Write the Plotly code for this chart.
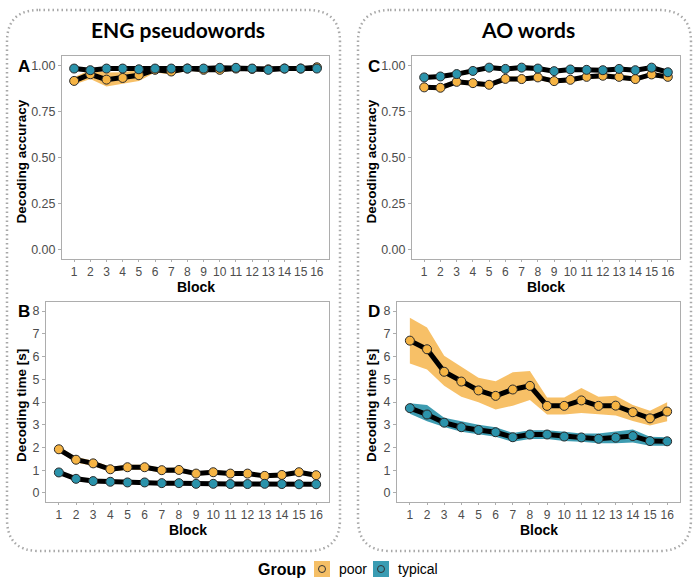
import plotly.graph_objects as go

W, H = 700, 584

blocks = list(range(1, 17))
acc_ticks = [0, 0.25, 0.5, 0.75, 1.0]
time_ticks = [0, 1, 2, 3, 4, 5, 6, 7, 8]

# Panel A: ENG pseudowords, accuracy
a_poor = [0.915, 0.951, 0.922, 0.931, 0.946, 0.975, 0.966, 0.982, 0.975, 0.975, 0.982, 0.980, 0.978, 0.982, 0.982, 0.989]
a_poor_lo = [0.895, 0.925, 0.885, 0.900, 0.915, 0.960, 0.950, 0.970, 0.965, 0.965, 0.972, 0.970, 0.968, 0.972, 0.972, 0.980]
a_poor_hi = [0.935, 0.975, 0.960, 0.962, 0.975, 0.990, 0.982, 0.992, 0.986, 0.986, 0.990, 0.990, 0.988, 0.990, 0.990, 0.996]
a_typ = [0.982, 0.973, 0.982, 0.982, 0.978, 0.982, 0.982, 0.982, 0.982, 0.986, 0.986, 0.982, 0.975, 0.982, 0.982, 0.982]
a_typ_lo = [0.974, 0.965, 0.974, 0.974, 0.970, 0.974, 0.974, 0.974, 0.974, 0.978, 0.978, 0.974, 0.967, 0.974, 0.974, 0.974]
a_typ_hi = [0.990, 0.981, 0.990, 0.990, 0.986, 0.990, 0.990, 0.990, 0.990, 0.994, 0.994, 0.990, 0.983, 0.990, 0.990, 0.990]

# Panel C: AO words, accuracy
c_poor = [0.880, 0.878, 0.910, 0.903, 0.894, 0.926, 0.925, 0.934, 0.914, 0.921, 0.937, 0.943, 0.937, 0.925, 0.950, 0.937]
c_poor_lo = [0.867, 0.865, 0.897, 0.890, 0.881, 0.913, 0.912, 0.921, 0.901, 0.908, 0.924, 0.930, 0.924, 0.912, 0.937, 0.924]
c_poor_hi = [0.893, 0.891, 0.923, 0.916, 0.907, 0.939, 0.938, 0.947, 0.927, 0.934, 0.950, 0.956, 0.950, 0.938, 0.963, 0.950]
c_typ = [0.934, 0.939, 0.952, 0.969, 0.987, 0.980, 0.987, 0.982, 0.968, 0.977, 0.975, 0.973, 0.980, 0.973, 0.987, 0.962]
c_typ_lo = [0.924, 0.929, 0.942, 0.959, 0.977, 0.970, 0.977, 0.972, 0.958, 0.967, 0.965, 0.963, 0.970, 0.963, 0.977, 0.952]
c_typ_hi = [0.944, 0.949, 0.962, 0.979, 0.997, 0.990, 0.997, 0.992, 0.978, 0.987, 0.985, 0.983, 0.990, 0.983, 0.997, 0.972]

# Panel B: ENG pseudowords, time
b_poor = [1.92, 1.46, 1.30, 1.04, 1.13, 1.13, 1.00, 1.01, 0.85, 0.91, 0.85, 0.85, 0.75, 0.79, 0.91, 0.78]
b_poor_lo = [1.80, 1.34, 1.18, 0.93, 1.02, 1.02, 0.90, 0.91, 0.76, 0.82, 0.76, 0.76, 0.66, 0.70, 0.82, 0.69]
b_poor_hi = [2.04, 1.58, 1.42, 1.15, 1.24, 1.24, 1.10, 1.11, 0.94, 1.00, 0.94, 0.94, 0.84, 0.88, 1.00, 0.87]
b_typ = [0.90, 0.62, 0.52, 0.49, 0.46, 0.46, 0.43, 0.43, 0.40, 0.40, 0.39, 0.39, 0.40, 0.39, 0.38, 0.38]
b_typ_lo = [0.84, 0.57, 0.47, 0.44, 0.41, 0.41, 0.38, 0.38, 0.35, 0.35, 0.34, 0.34, 0.35, 0.34, 0.33, 0.33]
b_typ_hi = [0.96, 0.67, 0.57, 0.54, 0.51, 0.51, 0.48, 0.48, 0.45, 0.45, 0.44, 0.44, 0.45, 0.44, 0.43, 0.43]

# Panel D: AO words, time
d_poor = [6.70, 6.32, 5.33, 4.90, 4.51, 4.27, 4.55, 4.71, 3.83, 3.83, 4.07, 3.83, 3.84, 3.55, 3.28, 3.58]
d_poor_lo = [5.69, 5.43, 4.71, 4.23, 3.99, 3.67, 3.84, 4.09, 3.45, 3.45, 3.52, 3.45, 3.41, 3.16, 2.97, 3.15]
d_poor_hi = [7.71, 7.28, 6.04, 5.57, 5.07, 4.91, 5.31, 5.36, 4.20, 4.20, 4.62, 4.23, 4.27, 3.87, 3.62, 3.99]
d_typ = [3.73, 3.45, 3.09, 2.89, 2.77, 2.67, 2.45, 2.57, 2.57, 2.48, 2.44, 2.38, 2.43, 2.50, 2.28, 2.27]
d_typ_lo = [3.48, 3.15, 2.90, 2.69, 2.58, 2.47, 2.25, 2.37, 2.37, 2.28, 2.25, 2.18, 2.18, 2.22, 2.08, 2.08]
d_typ_hi = [3.94, 3.87, 3.31, 3.15, 3.00, 2.89, 2.64, 2.76, 2.76, 2.69, 2.61, 2.61, 2.69, 2.79, 2.47, 2.45]

panel_titles = ["ENG pseudowords", "AO words"]
group_names = ["poor", "typical"]

POOR_FILL = "#F6B444"
POOR_RIB = "rgba(245,178,70,0.82)"
TYP_FILL = "#2B93AB"
TYP_RIB = "rgba(28,139,163,0.85)"
TICK_C = "#4D4D4D"
BORDER_C = "#ADADAD"
FONT = "Liberation Sans, Arial, sans-serif"


def px(x):
    return x / W


def py(y):
    return 1 - y / H


boxes = {
    "A": (62, 329, 56, 259),
    "C": (412, 680, 56, 259),
    "B": (46, 329, 302, 502),
    "D": (397, 680, 302, 502),
}

panels = [
    ("A", a_poor, a_poor_lo, a_poor_hi, a_typ, a_typ_lo, a_typ_hi, "acc"),
    ("C", c_poor, c_poor_lo, c_poor_hi, c_typ, c_typ_lo, c_typ_hi, "acc"),
    ("B", b_poor, b_poor_lo, b_poor_hi, b_typ, b_typ_lo, b_typ_hi, "time"),
    ("D", d_poor, d_poor_lo, d_poor_hi, d_typ, d_typ_lo, d_typ_hi, "time"),
]

fig = go.Figure()
layout = dict(
    width=W, height=H,
    margin=dict(l=0, r=0, t=0, b=0),
    paper_bgcolor="white", plot_bgcolor="white",
    showlegend=False,
    font=dict(family=FONT),
)
annotations = []
shapes = []

for i, (letter, pm, plo, phi, tm, tlo, thi, kind) in enumerate(panels):
    n = i + 1
    xa = "x" if n == 1 else f"x{n}"
    ya = "y" if n == 1 else f"y{n}"
    x0, x1, yt, yb = boxes[letter]
    rx = blocks + blocks[::-1]
    for lo, hi, rib in [(plo, phi, POOR_RIB), (tlo, thi, TYP_RIB)]:
        fig.add_trace(go.Scatter(x=rx, y=hi + lo[::-1], fill="toself", fillcolor=rib,
                                 line=dict(width=0), mode="lines", hoverinfo="skip",
                                 xaxis=xa, yaxis=ya))
    for mean in [pm, tm]:
        fig.add_trace(go.Scatter(x=blocks, y=mean, mode="lines", line=dict(color="black", width=5),
                                 xaxis=xa, yaxis=ya))
    for mean, fill in [(pm, POOR_FILL), (tm, TYP_FILL)]:
        fig.add_trace(go.Scatter(x=blocks, y=mean, mode="markers",
                                 marker=dict(size=9, color=fill, line=dict(color="#2A2A2A", width=1)),
                                 xaxis=xa, yaxis=ya))
    axkey_x = "xaxis" if n == 1 else f"xaxis{n}"
    axkey_y = "yaxis" if n == 1 else f"yaxis{n}"
    common = dict(showgrid=False, zeroline=False, showline=True, mirror=True,
                  linecolor=BORDER_C, linewidth=1, ticks="outside",
                  tickcolor=BORDER_C, tickangle=0)
    layout[axkey_x] = dict(domain=[px(x0), px(x1)], anchor=ya, range=[0.25, 16.75], ticklen=2,
                           tickmode="array", tickvals=blocks, ticktext=[str(b) for b in blocks],
                           tickfont=dict(size=12, color=TICK_C, family=FONT), **common)
    yfont = dict(size=12.5, color=TICK_C, family=FONT)
    if kind == "acc":
        layout[axkey_y] = dict(domain=[py(yb), py(yt)], anchor=xa, range=[-0.05, 1.05], ticklen=3,
                               tickmode="array", tickvals=acc_ticks,
                               ticktext=[f"{v:.2f}" for v in acc_ticks], tickfont=yfont, **common)
        ytitle = "Decoding accuracy"
        lab_y = 66
    else:
        layout[axkey_y] = dict(domain=[py(yb), py(yt)], anchor=xa, range=[-0.4, 8.4], ticklen=3,
                               tickmode="array", tickvals=time_ticks,
                               ticktext=[str(v) for v in time_ticks], tickfont=yfont, **common)
        ytitle = "Decoding time [s]"
        lab_y = 311
    offx = 0 if letter in ("A", "B") else 350
    annotations.append(dict(x=px(offx + 21), y=py((yt + yb) / 2 + 4), xref="paper", yref="paper",
                            text=f"<b>{ytitle}</b>", textangle=-90, showarrow=False,
                            font=dict(size=13.5, color="black", family=FONT),
                            xanchor="center", yanchor="middle"))
    annotations.append(dict(x=px((x0 + x1) / 2), y=py(yb + 28), xref="paper", yref="paper",
                            text="<b>Block</b>", showarrow=False,
                            font=dict(size=14, color="black", family=FONT),
                            xanchor="center", yanchor="middle"))
    annotations.append(dict(x=px(offx + 24), y=py(lab_y), xref="paper", yref="paper",
                            text=f"<b>{letter}</b>", showarrow=False,
                            font=dict(size=17, color="black", family=FONT),
                            xanchor="center", yanchor="middle"))

for title, cx in zip(panel_titles, [178, 528]):
    annotations.append(dict(x=px(cx), y=py(29), xref="paper", yref="paper",
                            text=f"<b>{title}</b>", showarrow=False,
                            font=dict(size=21, color="black", family="Lato, Open Sans, sans-serif"),
                            xanchor="center", yanchor="middle"))


def rounded(xa, xb, ya, yb, r):
    def P(x, y):
        return f"{px(x):.5f},{py(y):.5f}"
    return (f"M {P(xa + r, ya)} L {P(xb - r, ya)} Q {P(xb, ya)} {P(xb, ya + r)} "
            f"L {P(xb, yb - r)} Q {P(xb, yb)} {P(xb - r, yb)} "
            f"L {P(xa + r, yb)} Q {P(xa, yb)} {P(xa, yb - r)} "
            f"L {P(xa, ya + r)} Q {P(xa, ya)} {P(xa + r, ya)} Z")


for bx0, bx1 in [(7, 340), (358, 691)]:
    shapes.append(dict(type="path", xref="paper", yref="paper", path=rounded(bx0, bx1, 10, 551, 32),
                       line=dict(color="#A8A8A8", width=2.5, dash="1.5px,3px"), layer="below"))

annotations.append(dict(x=px(282), y=py(569), xref="paper", yref="paper", text="<b>Group</b>",
                        showarrow=False, font=dict(size=16, color="black", family=FONT),
                        xanchor="center", yanchor="middle"))
for name, kx, tx, fillc in [(group_names[0], 314, 337, "#F5BF66"), (group_names[1], 373, 396, "#3A9CB3")]:
    shapes.append(dict(type="rect", xref="paper", yref="paper",
                       x0=px(kx), x1=px(kx + 16), y0=py(577), y1=py(561),
                       fillcolor=fillc, line=dict(width=0)))
    shapes.append(dict(type="circle", xref="paper", yref="paper",
                       x0=px(kx + 4.5), x1=px(kx + 11.5), y0=py(572.5), y1=py(565.5),
                       fillcolor=fillc, line=dict(color="#333333", width=1)))
    annotations.append(dict(x=px(tx), y=py(569), xref="paper", yref="paper", text=name,
                            showarrow=False, font=dict(size=14, color="black", family=FONT),
                            xanchor="left", yanchor="middle"))

layout["annotations"] = annotations
layout["shapes"] = shapes
fig.update_layout(**layout)
fig.write_html("out.html")
